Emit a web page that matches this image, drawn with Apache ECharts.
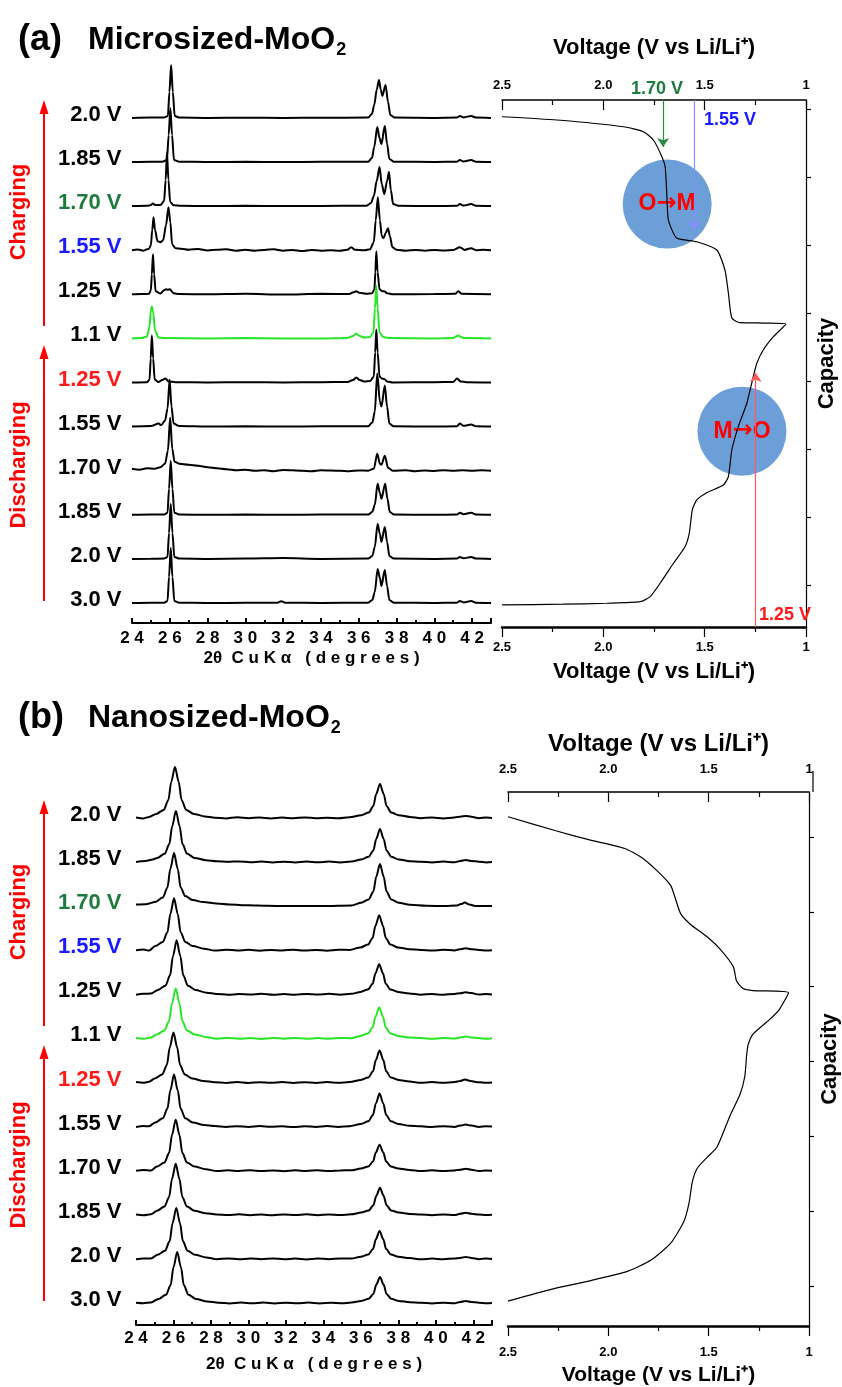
<!DOCTYPE html>
<html><head><meta charset="utf-8">
<script src="https://cdn.jsdelivr.net/npm/echarts@6/dist/echarts.min.js"></script>
<style>html,body{margin:0;padding:0;background:#fff}#c{width:842px;height:1387px}</style>
</head><body><div id="c"></div>
<script>
// ---------- DATA ----------
// trace labels, bottom (index 0) to top (index 11)
const xrdLabels = ['3.0 V','2.0 V','1.85 V','1.70 V','1.55 V','1.25 V','1.1 V','1.25 V','1.55 V','1.70 V','1.85 V','2.0 V'];
const labelColors = ['#000','#000','#000','#000','#000','#ff1a1a','#000','#000','#1a1aff','#1e7b3e','#000','#000'];
const traceColors = ['#000','#000','#000','#000','#000','#000','#27e627','#000','#000','#000','#000','#000'];
const xrdTicks = [24,26,28,30,32,34,36,38,40,42];

// (a) microsized MoO2 patterns: [2theta, intensity]
const microA = [
 [[24,0],[25,0.3],[25.7,0.2],[25.88,2],[25.96,26],[26.05,55],[26.14,26],[26.24,2],[26.5,0.3],[28,0],[30,0.2],[31.7,0.3],[31.9,1.8],[32.1,0.3],[34,0],[36.5,0.3],[36.72,3],[36.85,11],[37.0,34],[37.12,25],[37.2,17],[37.38,33],[37.5,17],[37.62,3],[37.85,0.3],[40,0],[41.2,0.3],[41.35,2],[41.55,0.6],[41.95,2],[42.2,0.3],[43,0]],
 [[24,0],[25,0.2],[25.7,0.3],[25.88,2],[25.96,26],[26.05,55],[26.14,26],[26.24,2],[26.5,0.3],[28,0],[30,0.3],[32,0.8],[34,0],[36.5,0.3],[36.72,3],[36.85,12],[37.0,35],[37.12,25],[37.2,17],[37.38,32],[37.5,17],[37.62,3],[37.85,0.3],[40,0],[41.2,0.3],[41.35,2],[41.55,0.6],[41.95,2],[42.2,0.3],[43,0]],
 [[24,0],[25,0.3],[25.7,0.2],[25.88,2],[25.96,26],[26.05,54],[26.14,26],[26.24,2],[26.5,0.3],[28,0],[30,0.3],[32,0],[34,0.2],[36.5,0.3],[36.72,3],[36.85,10],[37.0,31],[37.12,22],[37.2,16],[37.4,31],[37.52,16],[37.64,3],[37.85,0.3],[40,0],[41.2,0.3],[41.35,2],[41.55,0.6],[41.95,2],[42.2,0.3],[43,0]],
 [[24,2],[24.4,1],[24.8,2.5],[25.2,2],[25.5,3.5],[25.75,7],[25.9,20],[26.02,53],[26.13,22],[26.25,9],[26.5,7],[27,6],[27.5,5],[28,3.5],[28.5,2.5],[29,1.5],[29.5,0.5],[30,1],[30.5,0],[31,0.5],[31.5,-0.5],[32,0.8],[33,0],[33.5,-0.5],[34,0.5],[35,0],[35.5,-0.5],[36,0.3],[36.5,0],[36.8,2],[36.98,17],[37.12,7],[37.2,6],[37.38,15],[37.55,3],[37.8,0],[38.5,0.5],[39,-0.5],[39.5,0.3],[40,-0.3],[40.5,0.5],[41,0],[41.5,0.5],[42,0],[42.5,0.5],[43,0]],
 [[24,0],[25,0.5],[25.4,3],[25.55,1.5],[25.75,6],[25.88,18],[25.99,47],[26.09,20],[26.2,3],[26.5,0.5],[28,0],[30,0.3],[32,0],[34,0.3],[36.5,0.3],[36.72,4],[36.85,15],[36.98,53],[37.12,25],[37.2,20],[37.38,41],[37.5,20],[37.62,3],[37.85,0.3],[40,0],[41.2,0.3],[41.35,3],[41.55,0.8],[41.95,2],[42.2,0.3],[43,0]],
 [[24,0],[24.8,0.3],[24.93,3],[24.99,24],[25.05,47],[25.12,24],[25.2,3],[25.4,0.5],[25.6,2.5],[25.76,4],[25.95,1],[26.3,0.3],[28,0],[30,0.3],[32,0],[34,0.3],[35.4,0.5],[35.7,2.5],[35.87,5],[36.05,2.5],[36.3,1],[36.6,1.5],[36.8,6],[36.87,30],[36.93,53],[37.0,30],[37.1,6],[37.22,4],[37.35,3.5],[37.5,1],[37.8,0],[40,0.3],[41.0,0.5],[41.2,4],[41.4,1],[41.7,0.3],[43,0]],
 [[24,0],[24.5,0.3],[24.8,2],[24.93,12],[25.0,28],[25.05,32],[25.12,26],[25.22,8],[25.4,1],[25.7,0.3],[28,0],[30,0.3],[32,0],[34,0],[35.4,0.5],[35.7,2.5],[35.87,5],[36.05,2.5],[36.3,0.8],[36.6,1.5],[36.78,6],[36.86,30],[36.93,53],[37.0,30],[37.1,6],[37.3,1.5],[37.6,0.3],[40,0],[41.0,0.3],[41.15,2],[41.27,3],[41.4,1.5],[41.6,0.3],[43,0]],
 [[24,0],[24.5,0.3],[24.9,0.5],[25.0,4],[25.05,20],[25.11,40],[25.17,20],[25.25,3],[25.5,0.8],[25.7,4],[25.8,5],[25.9,4.5],[26.0,5],[26.2,1],[26.5,0.3],[28,0],[30,0.5],[32,-0.3],[34,0.5],[35.5,0.3],[35.72,2],[35.87,3],[36.05,1.5],[36.4,0.5],[36.7,1],[36.83,5],[36.88,22],[36.93,43],[37.0,22],[37.1,5],[37.25,3],[37.35,3],[37.5,1],[37.8,0],[40,0.3],[41.1,0.5],[41.27,3],[41.45,0.5],[43,0]],
 [[24,0],[24.3,0.8],[24.6,-0.5],[24.9,1.5],[25.0,5],[25.07,20],[25.14,33],[25.22,20],[25.35,9],[25.5,8],[25.65,10],[25.8,25],[25.93,43],[26.03,28],[26.12,6],[26.3,2],[26.6,1.5],[27,0.5],[27.5,1.2],[28,-0.3],[28.5,0.5],[29,1],[29.5,-0.5],[30,0.5],[30.5,-0.5],[31,0.3],[31.5,1],[32,-0.5],[32.5,0.3],[33,-0.8],[33.5,0.3],[34,-0.5],[34.5,0],[35,-0.5],[35.4,0.5],[35.6,3],[35.8,0.5],[36.3,0],[36.6,1],[36.8,8],[36.9,30],[37.01,53],[37.12,30],[37.22,14],[37.31,12],[37.42,17],[37.55,22],[37.65,14],[37.78,3],[38,0.5],[38.5,-0.5],[39,0.3],[39.5,-0.5],[40,0.3],[40.5,-0.3],[41,0.3],[41.35,3],[41.6,0.3],[41.95,2],[42.2,0],[42.6,0.5],[43,0]],
 [[24,0],[24.8,0.3],[25.0,1],[25.1,2.5],[25.25,1],[25.5,1],[25.7,5],[25.78,26],[25.85,54],[25.93,26],[26.02,4],[26.2,0.8],[26.6,0.3],[28,0],[30,0.3],[32,0],[34,0.2],[36.4,0.3],[36.65,3],[36.8,10],[36.95,25],[37.1,39],[37.22,22],[37.35,12],[37.5,25],[37.6,34],[37.7,16],[37.82,2],[38.1,0.3],[40,0],[41.2,0.3],[41.35,2],[41.55,0.5],[41.95,2],[42.2,0.3],[43,0]],
 [[24,0],[25,0.3],[25.6,0.3],[25.85,2],[25.94,27],[26.03,54],[26.12,27],[26.22,2],[26.5,0.3],[28,0],[30,0.2],[32,0],[34,0.2],[36.5,0.3],[36.7,4],[36.82,15],[36.98,35],[37.1,24],[37.2,18],[37.38,36],[37.5,18],[37.62,3],[37.85,0.3],[40,0],[41.2,0.3],[41.35,2],[41.55,0.5],[41.95,2],[42.2,0.3],[43,0]],
 [[24,0],[25,0.3],[25.7,0.3],[25.9,2],[25.98,26],[26.07,53],[26.16,26],[26.26,2],[26.5,0.3],[28,0],[30,0.2],[32,0],[34,0.2],[36.5,0.3],[36.7,4],[36.82,13],[36.95,28],[37.07,38],[37.17,28],[37.25,22],[37.42,33],[37.55,16],[37.67,3],[37.9,0.3],[40,0],[41.2,0.3],[41.35,2],[41.55,0.5],[41.95,2],[42.2,0.3],[43,0]]
];

// (b) nanosized MoO2 patterns
const nanoB = [
 [[24,0.2],[24.4,-0.3],[24.8,0.6],[25.2,4.1],[25.6,8.2],[25.85,17.9],[26.0,35.7],[26.2,51],[26.4,35.7],[26.55,17.9],[26.8,8.2],[27.2,4.1],[27.8,1.5],[28.4,0.3],[29,-0.4],[29.6,0.4],[30.2,-0.3],[30.8,0.5],[31.4,-0.4],[32,0.3],[32.6,-0.3],[33.2,0.4],[33.8,-0.5],[34.4,0.3],[35,-0.3],[35.5,0.5],[36.02,2.1],[36.42,4.2],[36.67,9.1],[36.82,18.2],[37.02,26],[37.22,18.2],[37.37,9.1],[37.62,4.2],[38.02,2.1],[38.62,0.8],[39.2,0.3],[39.8,-0.4],[40.4,0.3],[41.0,-0.3],[41.3,1],[41.6,2],[41.9,1],[42.3,0.3],[42.7,-0.3],[43,0]],
 [[24,-0.3],[24.4,0.4],[24.8,0.5],[25.15,4.1],[25.55,8.2],[25.8,17.9],[25.95,35.7],[26.15,51],[26.35,35.7],[26.5,17.9],[26.75,8.2],[27.15,4.1],[27.75,1.5],[28.3,-0.3],[28.9,0.5],[29.5,-0.4],[30.1,0.4],[30.7,-0.3],[31.3,0.5],[31.9,-0.4],[32.5,0.3],[33.1,-0.5],[33.7,0.4],[34.3,-0.3],[34.9,0.5],[35.5,0.3],[36.0,2.2],[36.4,4.5],[36.65,9.8],[36.8,19.6],[37.0,28],[37.2,19.6],[37.35,9.8],[37.6,4.5],[38.0,2.2],[38.6,0.8],[39.2,-0.4],[39.8,0.3],[40.4,-0.3],[41.0,0.4],[41.3,1],[41.6,2],[41.9,1],[42.3,-0.3],[42.7,0.4],[43,0]],
 [[24,0.3],[24.4,-0.4],[24.8,0.6],[25.12,4.1],[25.52,8.2],[25.77,17.9],[25.92,35.7],[26.12,51],[26.32,35.7],[26.47,17.9],[26.72,8.2],[27.12,4.1],[27.72,1.5],[28.3,0.4],[28.9,-0.3],[29.5,0.5],[30.1,-0.4],[30.7,0.3],[31.3,-0.5],[31.9,0.4],[32.5,-0.3],[33.1,0.5],[33.7,-0.4],[34.3,0.3],[34.9,-0.3],[35.5,0.5],[36.02,2.2],[36.42,4.3],[36.67,9.5],[36.82,18.9],[37.02,27],[37.22,18.9],[37.37,9.5],[37.62,4.3],[38.02,2.2],[38.62,0.8],[39.2,0.3],[39.8,-0.4],[40.4,0.3],[41.0,-0.3],[41.3,1],[41.6,2],[41.9,1],[42.3,0.3],[42.7,-0.3],[43,0]],
 [[24,0],[24.4,0.6],[24.8,0.2],[25.12,4.1],[25.52,8.2],[25.77,17.9],[25.92,35.7],[26.12,51],[26.32,35.7],[26.47,17.9],[26.72,8.2],[27.12,4.1],[27.72,1.5],[28.3,-0.4],[28.9,0.4],[29.5,-0.3],[30.1,0.5],[30.7,-0.4],[31.3,0.3],[31.9,-0.5],[32.5,0.4],[33.1,-0.3],[33.7,0.5],[34.3,-0.4],[34.9,0.3],[35.5,0.4],[36.0,2.1],[36.4,4.2],[36.65,9.1],[36.8,18.2],[37.0,26],[37.2,18.2],[37.35,9.1],[37.6,4.2],[38.0,2.1],[38.6,0.8],[39.2,-0.3],[39.8,0.4],[40.4,-0.4],[41.0,0.3],[41.3,1],[41.6,2],[41.9,1],[42.3,-0.4],[42.7,0.3],[43,0]],
 [[24,-0.3],[24.4,0.5],[24.7,0.3],[25.03,4.2],[25.43,8.3],[25.68,18],[25.83,36],[26.03,52],[26.23,36],[26.38,18],[26.63,8.3],[27.03,4.2],[27.63,1.5],[28.2,0.5],[28.8,-0.3],[29.4,0.4],[30,-0.4],[30.6,0.5],[31.2,-0.2],[31.8,0.4],[32.4,-0.5],[33,0.3],[33.6,-0.3],[34.2,0.5],[34.8,-0.4],[35.4,0.4],[36.0,2.6],[36.4,5.3],[36.65,11.6],[36.8,23.1],[37.0,33],[37.2,23.1],[37.35,11.6],[37.6,5.3],[38.0,2.6],[38.6,0.8],[39.2,0.3],[39.8,-0.4],[40.4,0.4],[41.0,-0.3],[41.3,1],[41.6,2],[41.9,1],[42.3,-0.3],[42.7,0.4],[43,0]],
 [[24,0.4],[24.4,-0.3],[24.7,0.8],[25.0,4],[25.4,8],[25.65,17.5],[25.8,35],[26.0,50],[26.2,35],[26.35,17.5],[26.6,8],[27.0,4],[27.6,1.5],[28.2,0.3],[28.8,-0.4],[29.4,0.5],[30,-0.5],[30.6,0.3],[31.2,-0.3],[31.8,0.5],[32.4,-0.4],[33,0.3],[33.6,-0.5],[34.2,0.4],[34.8,-0.3],[35.4,0.5],[36.0,2.6],[36.4,5.1],[36.65,11.2],[36.8,22.4],[37.0,32],[37.2,22.4],[37.35,11.2],[37.6,5.1],[38.0,2.6],[38.6,1],[39.2,-0.3],[39.8,0.4],[40.4,-0.3],[41.0,0.5],[41.3,1.5],[41.55,3],[41.85,1.5],[42.3,0.2],[42.7,-0.3],[43,0]],
 [[24,0.3],[24.4,-0.4],[24.8,1],[25.12,4],[25.52,8],[25.77,17.5],[25.92,35],[26.12,50],[26.32,35],[26.47,17.5],[26.72,8],[27.12,4],[27.72,1.5],[28.3,-0.3],[28.9,0.5],[29.5,-0.4],[30.1,0.3],[30.7,-0.5],[31.3,0.4],[31.9,-0.3],[32.5,0.5],[33.1,-0.4],[33.7,0.3],[34.3,-0.3],[34.9,0.4],[35.5,0.2],[35.98,2.5],[36.38,5],[36.63,10.9],[36.78,21.7],[36.98,31],[37.18,21.7],[37.33,10.9],[37.58,5],[37.98,2.5],[38.58,0.8],[39.2,0.4],[39.8,-0.4],[40.4,0.3],[41.0,-0.2],[41.3,1],[41.6,2],[41.9,1],[42.3,0.3],[42.7,-0.4],[43,0.2]],
 [[24,-0.5],[24.4,0.5],[24.8,0.8],[25.17,4.3],[25.57,8.6],[25.82,19],[25.97,38],[26.17,54],[26.37,38],[26.52,19],[26.77,8.6],[27.17,4.3],[27.77,1.5],[28.3,0.4],[28.9,-0.5],[29.5,0.3],[30.1,-0.3],[30.7,0.6],[31.3,-0.4],[31.9,0.2],[32.5,-0.5],[33.1,0.4],[33.7,-0.3],[34.3,0.5],[34.9,-0.4],[35.5,0.5],[35.98,2.4],[36.38,4.8],[36.63,10.5],[36.78,21],[36.98,30],[37.18,21],[37.33,10.5],[37.58,4.8],[37.98,2.4],[38.58,0.8],[39.2,-0.4],[39.8,0.3],[40.4,-0.5],[41.0,0.4],[41.3,1],[41.6,2],[41.9,1.2],[42.3,-0.3],[42.7,0.3],[43,-0.2]],
 [[24,0],[24.4,0.6],[24.7,-0.4],[25.03,4.2],[25.43,8.3],[25.68,18],[25.83,36],[26.03,52],[26.23,36],[26.38,18],[26.63,8.3],[27.03,4.2],[27.63,1.5],[28.2,-0.4],[28.8,0.5],[29.4,-0.3],[30,0.4],[30.6,-0.5],[31.2,0.3],[31.8,-0.2],[32.4,0.5],[33,-0.4],[33.6,0.3],[34.2,-0.5],[34.8,0.4],[35.4,0.3],[35.98,2.8],[36.38,5.6],[36.63,12.3],[36.78,24.5],[36.98,35],[37.18,24.5],[37.33,12.3],[37.58,5.6],[37.98,2.8],[38.58,1],[39.2,0.3],[39.8,-0.4],[40.4,0.4],[41.0,-0.2],[41.3,1],[41.6,2],[41.9,1],[42.3,0.3],[42.7,-0.4],[43,0]],
 [[24,1.5],[24.5,1.8],[25.03,4.2],[25.43,8.5],[25.68,18.6],[25.83,37.1],[26.03,53],[26.23,37.1],[26.38,18.6],[26.63,10],[27.03,6],[27.6,4],[28.3,2.5],[29,1.5],[30,0.8],[31,0.3],[32,0],[34,0],[35.5,0.6],[36.02,3.4],[36.42,6.7],[36.67,14.7],[36.82,29.4],[37.02,42],[37.22,29.4],[37.37,14.7],[37.62,6.7],[38.02,3.4],[38.62,1.3],[39.5,0.3],[40.5,0],[41.1,0.5],[41.35,2],[41.55,3.5],[41.8,1.5],[42.1,0.2],[43,0]],
 [[24,0],[24.5,1],[24.9,2.5],[25.13,4.1],[25.53,8.2],[25.78,17.9],[25.93,35.7],[26.13,51],[26.33,35.7],[26.48,17.9],[26.73,8.2],[27.13,4.1],[27.73,1.8],[28.3,0.8],[28.9,0.2],[29.5,0.6],[30.1,-0.3],[30.7,0.4],[31.3,-0.4],[31.9,0.3],[32.5,-0.5],[33.1,0.4],[33.7,-0.3],[34.3,0.5],[34.9,-0.4],[35.5,0.5],[36.02,2.6],[36.42,5.3],[36.67,11.6],[36.82,23.1],[37.02,33],[37.22,23.1],[37.37,11.6],[37.62,5.3],[38.02,2.6],[38.62,0.8],[39.2,0.3],[39.8,-0.4],[40.4,0.4],[41.0,-0.3],[41.3,1],[41.6,2],[41.9,1],[42.3,0.3],[42.7,-0.4],[43,0]],
 [[24,0.5],[24.4,-0.5],[24.7,1],[25.08,4],[25.48,8],[25.73,18],[25.88,36],[26.08,51],[26.28,36],[26.43,18],[26.68,8],[27.08,4],[27.68,1.5],[28.2,0.2],[28.8,-0.5],[29.4,0.6],[30,-0.3],[30.6,0.4],[31.2,-0.5],[31.8,0.3],[32.4,-0.4],[33,0.5],[33.6,-0.3],[34.2,0.2],[34.8,-0.4],[35.4,0.6],[36.02,2.7],[36.42,5.4],[36.67,12],[36.82,24],[37.02,34],[37.22,24],[37.37,12],[37.62,5.4],[38.02,2.7],[38.62,1],[39.2,-0.3],[39.8,0.4],[40.4,-0.5],[41.0,0.4],[41.3,1.2],[41.6,2],[41.9,1.2],[42.3,-0.3],[42.7,0.4],[43,0]]
];

// voltage profiles: [voltage, capacity (arb.)]
const curveA = [[2.5,0.324],[2.2,0.335],[1.983,0.349],[1.818,0.372],[1.769,0.446],[1.72,0.643],[1.654,0.937],[1.597,1.181],[1.576,1.378],[1.561,1.721],[1.539,1.868],[1.49,1.975],[1.408,2.088],[1.383,2.21],[1.366,2.603],[1.334,2.946],[1.292,3.29],[1.268,3.584],[1.243,3.875],[1.211,4.074],[1.161,4.269],[1.099,4.456],[1.2,4.47],[1.326,4.475],[1.366,4.544],[1.383,4.912],[1.4,5.25],[1.44,5.544],[1.539,5.666],[1.638,5.721],[1.679,5.985],[1.687,6.382],[1.695,6.769],[1.711,6.916],[1.753,7.162],[1.802,7.284],[1.901,7.357],[2.229,7.456],[2.5,7.504]];
const curveB = [[2.5,0.333],[2.28,0.493],[2.098,0.6],[1.902,0.733],[1.787,0.88],[1.689,1.107],[1.623,1.4],[1.598,1.64],[1.582,1.92],[1.557,2.107],[1.508,2.253],[1.459,2.387],[1.393,2.813],[1.344,3.093],[1.32,3.333],[1.311,3.613],[1.303,3.76],[1.279,3.9],[1.197,4.093],[1.148,4.227],[1.102,4.453],[1.279,4.48],[1.328,4.507],[1.361,4.608],[1.377,4.797],[1.443,5.033],[1.508,5.199],[1.59,5.364],[1.639,5.505],[1.664,5.693],[1.689,5.883],[1.754,6.072],[1.836,6.26],[1.918,6.379],[2.098,6.496],[2.262,6.615],[2.5,6.803]];
const voltTicks = [1,1.5,2,2.5];

// annotations in panel (a)
const markVolts = [1.705, 1.55, 1.248];          // 1.70 V, 1.55 V, 1.25 V markers
const markFrom = [7.75, 7.75, 0];
const markTo = [7.06, 5.84, 3.735];
const markText = ['1.70 V','1.55 V','1.25 V'];
const markTextV = [1.735, 1.375, 1.104];
const markTextC = [7.91, 7.456, 0.176];
const phaseText = ['O{a|\u2192}M','M{a|\u2192}O'];
const phaseV = [1.685, 1.316];
const phaseC = [6.22, 2.88];

// ---------- CHART ----------
const FONT = '"Liberation Sans", Arial, Helvetica, sans-serif';
const NARROW = '"Liberation Sans Narrow", "Arial Narrow", "Liberation Sans", Arial, sans-serif';
const STEP = 44.1;
const markColors = ['#2a8a3e','#8a8cff','#ff5a5a'];
const markTextColors = ['#1e7b3e','#1a1aff','#ff1a1a'];
const capTicksA = [0.62,1.62,2.62,3.62,4.62,5.62,6.62,7.62];
const capTicksB = [0.533,1.533,2.533,3.533,4.533,5.533,6.533];

function tw(t, f){const c=document.createElement('canvas').getContext('2d');c.font=f;return c.measureText(t).width;}

const chart = echarts.init(document.getElementById('c'));

function xrdX(gi, margin, gap){
  return {gridIndex:gi, type:'value', min:24, max:43, interval:2, position:'bottom',
    axisLine:{show:true,onZero:false,lineStyle:{color:'#000',width:2}},
    axisTick:{show:true,inside:true,length:5,lineStyle:{color:'#000',width:2}},
    minorTick:{show:true,splitNumber:2,length:3,lineStyle:{color:'#000',width:2}},
    splitLine:{show:false}, minorSplitLine:{show:false},
    axisLabel:{show:true,margin:margin,color:'#000',fontFamily:FONT,fontWeight:'bold',fontSize:17,showMaxLabel:false,
      formatter:v=> xrdTicks.indexOf(v)>=0 ? String(v).split('').join(' ') : ''},
    name:'2\u03b8  C u K \u03b1   ( d e g r e e s )', nameLocation:'middle', nameGap:gap,
    nameTextStyle:{color:'#000',fontFamily:FONT,fontWeight:'bold',fontSize:17}};
}
function voltX(gi, pos, margin, gap, lblFont, nameFont, nameSize){
  return {gridIndex:gi, type:'value', position:pos, min:1, max:2.5, interval:0.5, inverse:true,
    axisLine:{show:true,onZero:false,lineStyle:{color:'#000',width:pos==='top'?1.5:2.5}},
    axisTick:{show:true,inside:pos==='top',length:10,lineStyle:{color:'#000',width:1.2}},
    minorTick:{show:true,splitNumber:2,length:5,lineStyle:{color:'#000',width:1.2}},
    splitLine:{show:false}, minorSplitLine:{show:false},
    axisLabel:{margin:margin,fontSize:13,fontWeight:'bold',color:'#000',fontFamily:lblFont,
      formatter:v=> voltTicks.indexOf(v)<0 ? '' : (v===1?'1':v.toFixed(1))},
    name:'Voltage (V vs Li/Li\u207a)', nameLocation:'middle', nameGap:gap,
    nameTextStyle:{fontSize:nameSize,fontWeight:'bold',color:'#000',fontFamily:nameFont}};
}
function capY(gi, max, ticks){
  return {gridIndex:gi, type:'value', position:'right', min:0, max:max,
    axisLine:{show:true,onZero:false,lineStyle:{color:'#000',width:1.2}},
    axisTick:{show:true,inside:false,length:5,customValues:ticks,lineStyle:{color:'#000',width:1.2}},
    axisLabel:{show:false}, splitLine:{show:false},
    name:'Capacity', nameLocation:'middle', nameRotate:90, nameGap:10,
    nameTextStyle:{fontSize:22,fontWeight:'bold',color:'#000',fontFamily:FONT}};
}
function xrdSeries(traces, xi, yi){
  return traces.map((tr,i)=>({type:'line', xAxisIndex:xi, yAxisIndex:yi, symbol:'none', showSymbol:false,
    smooth:0.3, smoothMonotone:'x', silent:true, z:2,
    lineStyle:{color:traceColors[i], width:2},
    data: tr.map(p=>[p[0], p[1]+i*STEP])}));
}
function labelSeries(xi, yi, dist){
  return {type:'scatter', xAxisIndex:xi, yAxisIndex:yi, symbolSize:1, clip:false, silent:true, z:5,
    itemStyle:{color:'transparent', opacity:1},
    data: xrdLabels.map((t,i)=>({value:[24, i*STEP+3], label:{color:labelColors[i]}})),
    label:{show:true, position:'left', distance:dist, formatter:p=>xrdLabels[p.dataIndex],
      fontFamily:FONT, fontWeight:'bold', fontSize:22, opacity:1}};
}

const series = [].concat(
  xrdSeries(microA, 0, 0),
  [labelSeries(0, 0, 10)],
  xrdSeries(nanoB, 3, 2),
  [labelSeries(3, 2, 14)],
  [
    {type:'scatter', xAxisIndex:2, yAxisIndex:1, symbolSize:89, silent:true, z:1,
      itemStyle:{color:'#6c9fd8', opacity:1},
      data: phaseV.map((v,i)=>[v, phaseC[i]]),
      label:{show:true, position:'inside', formatter:p=>phaseText[p.dataIndex], color:'#ff0000', opacity:1,
        fontFamily:FONT, fontWeight:'bold', fontSize:23,
        rich:{a:{fontFamily:'"DejaVu Sans", sans-serif', fontWeight:'bold', fontSize:24, color:'#ff0000'}}}},
    {type:'line', xAxisIndex:2, yAxisIndex:1, symbol:'none', smooth:0.2, silent:true, z:3,
      lineStyle:{color:'#000', width:1.2}, data: curveA,
      markLine:{silent:true, symbol:['none','arrow'], symbolSize:9, label:{show:false}, animation:false,
        data: markVolts.map((v,i)=>[
          {coord:[v, markFrom[i]], lineStyle:{color:markColors[i], width:1.2, type:'solid'}, itemStyle:{color:markColors[i]}},
          {coord:[v, markTo[i]], lineStyle:{color:markColors[i], width:1.2, type:'solid'}, itemStyle:{color:markColors[i]}}])}},
    {type:'scatter', xAxisIndex:2, yAxisIndex:1, symbolSize:1, clip:false, silent:true, z:6,
      itemStyle:{color:'transparent', opacity:1},
      data: markText.map((t,i)=>({value:[markTextV[i], markTextC[i]], label:{color:markTextColors[i]}})),
      label:{show:true, position:'inside', formatter:p=>markText[p.dataIndex], opacity:1,
        fontFamily:FONT, fontWeight:'bold', fontSize:18}},
    {type:'line', xAxisIndex:5, yAxisIndex:3, symbol:'none', smooth:0.2, silent:true, z:3,
      lineStyle:{color:'#000', width:1.2}, data: curveB}
  ]
);

const tFontA = 'bold 32px ' + FONT;
const tFontB = 'bold 32px ' + FONT;
const wA = tw('Microsized-MoO', tFontA);
const wB = tw('Nanosized-MoO', tFontB);
function txt(x,y,text,font,fill,rot,align){
  return {type:'text', x:x, y:y, rotation:rot||0, silent:true,
    style:{text:text, font:font, fill:fill||'#000', textAlign:align||'left', textVerticalAlign:'middle', align:align||'left', verticalAlign:'middle'}};
}
function arrow(x, yBottom, yTip){
  return [
    {type:'line', silent:true, shape:{x1:x,y1:yBottom,x2:x,y2:yTip+12}, style:{stroke:'#ff0000', lineWidth:2}},
    {type:'polygon', silent:true, shape:{points:[[x,yTip],[x-4.5,yTip+14],[x+4.5,yTip+14]]}, style:{fill:'#ff0000'}}
  ];
}
const graphic = [].concat(
  [txt(18,40,'(a)','bold 36px '+FONT), txt(88,40,'Microsized-MoO',tFontA), txt(88+wA+1,50,'2','bold 18px '+FONT),
   txt(18,718,'(b)','bold 36px '+FONT), txt(88,718,'Nanosized-MoO',tFontB), txt(88+wB+1,728,'2','bold 18px '+FONT)],
  arrow(44,326,100), arrow(44,601,345), arrow(44,1026,800), arrow(44,1301,1045),
  [txt(19,212,'Charging','bold 22px '+FONT,'#ff0000',Math.PI/2,'center'),
   txt(19,465,'Discharging','bold 22px '+FONT,'#ff0000',Math.PI/2,'center'),
   txt(19,912,'Charging','bold 22px '+FONT,'#ff0000',Math.PI/2,'center'),
   txt(19,1165,'Discharging','bold 22px '+FONT,'#ff0000',Math.PI/2,'center')],
  [{type:'line', silent:true, shape:{x1:813,y1:771,x2:813,y2:792}, style:{stroke:'#000', lineWidth:1.2}}]
);

chart.setOption({
  animation:false,
  backgroundColor:'#fff',
  grid:[
    {left:132, top:50, width:359, height:573},
    {left:502, top:100, width:304, height:527},
    {left:136, top:750, width:356, height:575},
    {left:508, top:792, width:305, height:535}
  ],
  xAxis:[
    xrdX(0, 7, 27),
    voltX(1,'top', 8, 41, FONT, FONT, 22),
    voltX(1,'bottom', 14, 34, FONT, FONT, 22),
    xrdX(2, 5, 31),
    voltX(3,'top', 16, 36, NARROW, NARROW, 24),
    voltX(3,'bottom', 20, 39, FONT, FONT, 21)
  ],
  yAxis:[
    {gridIndex:0, type:'value', min:-20, max:553, show:false},
    capY(1, 7.75, capTicksA),
    {gridIndex:2, type:'value', min:-22, max:553, show:false},
    capY(3, 7.133, capTicksB)
  ],
  series: series,
  graphic: graphic
});
</script></body></html>
